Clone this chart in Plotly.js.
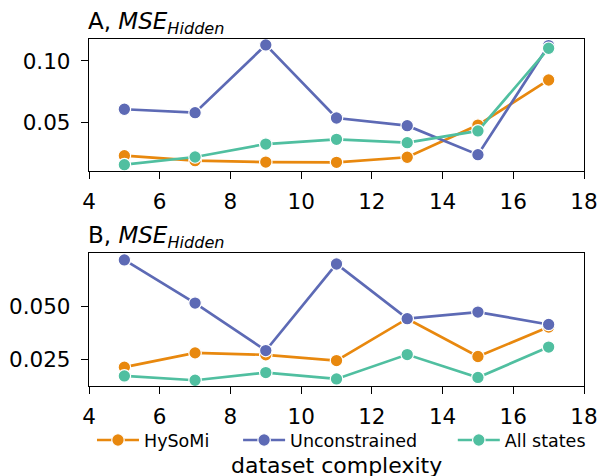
<!DOCTYPE html>
<html><head><meta charset="utf-8">
<script src="https://cdn.plot.ly/plotly-3.0.1.min.js"></script>
<style>body{margin:0;padding:0;background:#fff}#chart{width:603px;height:476px}</style>
</head><body><div id="chart"></div>
<script>
const complexity = [5, 7, 9, 11, 13, 15, 17];
const seriesNames = ["HySoMi", "Unconstrained", "All states"];
const colors = ["#E8880E", "#5D6AB5", "#50BFA0"];
// Panel A
const hysomiA = [0.0233, 0.0192, 0.0181, 0.0179, 0.0220, 0.0481, 0.0846];
const unconA  = [0.0609, 0.0581, 0.1130, 0.0538, 0.0476, 0.0241, 0.1125];
const allA    = [0.0160, 0.0222, 0.0327, 0.0365, 0.0338, 0.0433, 0.1103];
// Panel B
const hysomiB = [0.0214, 0.0281, 0.0272, 0.0245, 0.0441, 0.0264, 0.0402];
const unconB  = [0.0716, 0.0514, 0.0292, 0.0697, 0.0441, 0.0472, 0.0414];
const allB    = [0.0173, 0.0153, 0.0189, 0.0159, 0.0273, 0.0166, 0.0308];
const xTicks = [4, 6, 8, 10, 12, 14, 16, 18];
const yTicksA = [0.05, 0.10], yTickTextA = ["0.05", "0.10"];
const yTicksB = [0.025, 0.050], yTickTextB = ["0.025", "0.050"];

const legendIds = ["legend", "legend2", "legend3"];
function tr(y, i, xa, ya, show) {
  return {x: complexity, y: y, type: "scatter", mode: "lines+markers",
    name: seriesNames[i], xaxis: xa, yaxis: ya, showlegend: show, legend: legendIds[i],
    line: {color: colors[i], width: 2.7},
    marker: {color: colors[i], size: 12.5, line: {color: "#fff", width: 1.2}}};
}
const data = [
  tr(hysomiA,0,"x","y",true), tr(unconA,1,"x","y",true), tr(allA,2,"x","y",true),
  tr(hysomiB,0,"x2","y2",false), tr(unconB,1,"x2","y2",false), tr(allB,2,"x2","y2",false)
];
const axBase = {showline: true, linecolor: "#000", linewidth: 1.3, mirror: true,
  ticks: "outside", ticklen: 7, tickwidth: 1.3, tickcolor: "#000",
  showgrid: false, zeroline: false, tickfont: {size: 21.5, color: "#000"}};
const xBase = Object.assign({}, axBase, {domain: [0,1], range: [4,18], tickvals: xTicks, ticklabelstandoff: 4});
const yBase = Object.assign({}, axBase, {ticklabelstandoff: 6});
function leg(xpx) {
  return {orientation: "h", x: (xpx - 89) / 498, xanchor: "left", y: -0.156, yanchor: "middle",
    font: {size: 17.5}, bgcolor: "rgba(0,0,0,0)", borderwidth: 0, itemwidth: 42};
}
const layout = {
  width: 603, height: 476, paper_bgcolor: "#fff", plot_bgcolor: "#fff",
  font: {family: "DejaVu Sans", color: "#000"},
  margin: {l: 89, r: 16, t: 39, b: 90},
  showlegend: true,
  legend: leg(92), legend2: leg(239), legend3: leg(455),
  xaxis: Object.assign({}, xBase, {anchor: "y"}),
  yaxis: Object.assign({}, yBase, {domain: [0.6187, 1], range: [0.0106, 0.1178], tickvals: yTicksA, ticktext: yTickTextA, anchor: "x"}),
  xaxis2: Object.assign({}, xBase, {anchor: "y2"}),
  yaxis2: Object.assign({}, yBase, {domain: [0, 0.3824], range: [0.0126, 0.0747], tickvals: yTicksB, ticktext: yTickTextB, anchor: "x2"}),
  annotations: [
    {text: "A, <i>MSE<sub>Hidden</sub></i>", xref: "paper", yref: "paper", x: 0, y: 0.997, xanchor: "left", yanchor: "bottom", showarrow: false, font: {size: 23}, xshift: -3},
    {text: "B, <i>MSE<sub>Hidden</sub></i>", xref: "paper", yref: "paper", x: 0, y: 0.381, xanchor: "left", yanchor: "bottom", showarrow: false, font: {size: 23}, xshift: -3},
    {text: "dataset complexity", xref: "paper", yref: "paper", x: 0.5, y: -0.228, xanchor: "center", yanchor: "middle", showarrow: false, font: {size: 22}}
  ]
};
Plotly.newPlot("chart", data, layout, {displayModeBar: false});
</script></body></html>
